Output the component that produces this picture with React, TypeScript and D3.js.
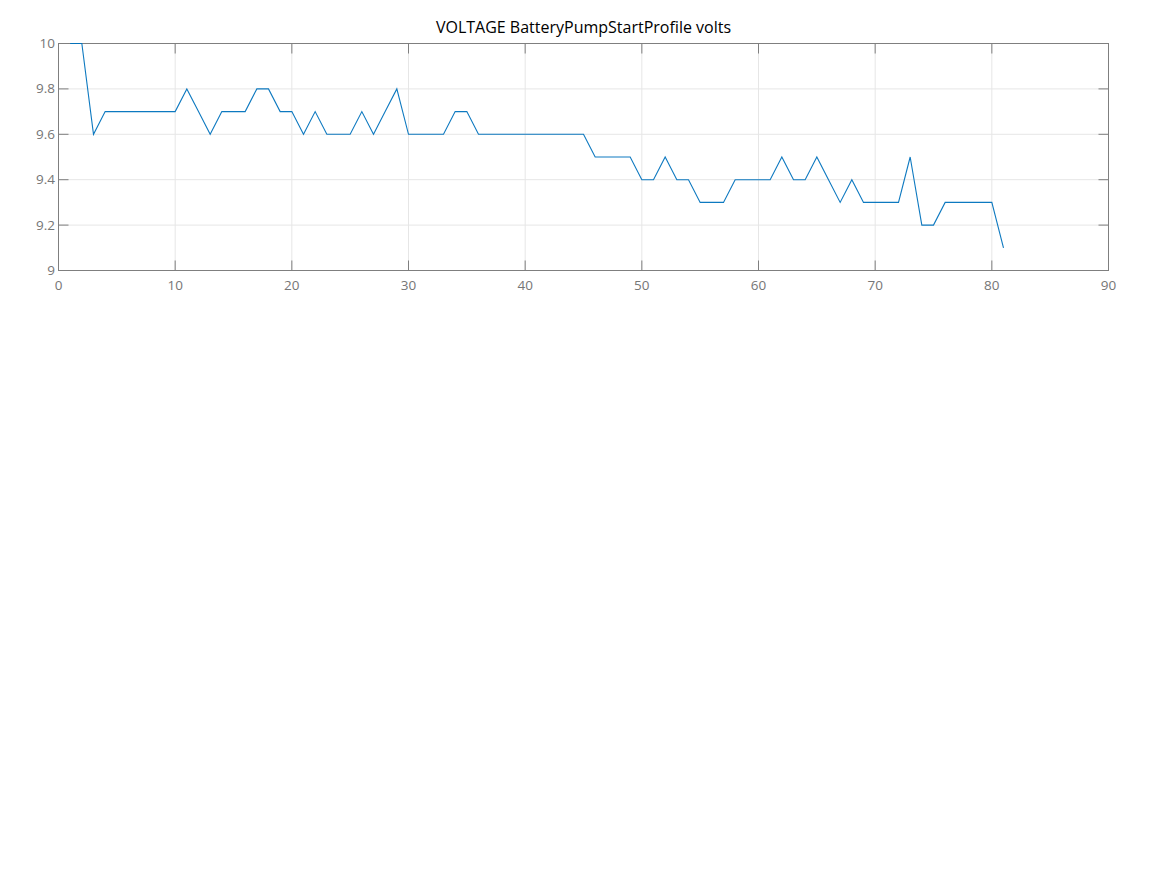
import React from "react";
import * as d3 from "d3";

const xValues: number[] = Array.from({ length: 81 }, (_, i) => i + 1);
const volts: number[] = [
  10, 10, 9.6, 9.7, 9.7, 9.7, 9.7, 9.7, 9.7, 9.7,
  9.8, 9.7, 9.6, 9.7, 9.7, 9.7, 9.8, 9.8, 9.7, 9.7,
  9.6, 9.7, 9.6, 9.6, 9.6, 9.7, 9.6, 9.7, 9.8, 9.6,
  9.6, 9.6, 9.6, 9.7, 9.7, 9.6, 9.6, 9.6, 9.6, 9.6,
  9.6, 9.6, 9.6, 9.6, 9.6, 9.5, 9.5, 9.5, 9.5, 9.4,
  9.4, 9.5, 9.4, 9.4, 9.3, 9.3, 9.3, 9.4, 9.4, 9.4,
  9.4, 9.5, 9.4, 9.4, 9.5, 9.4, 9.3, 9.4, 9.3, 9.3,
  9.3, 9.3, 9.5, 9.2, 9.2, 9.3, 9.3, 9.3, 9.3, 9.3,
  9.1,
];
const xTicks: number[] = [0, 10, 20, 30, 40, 50, 60, 70, 80, 90];
const yTicks: number[] = [9, 9.2, 9.4, 9.6, 9.8, 10];
const title = "VOLTAGE BatteryPumpStartProfile volts";

export default function App() {
  const W = 1167, H = 875;
  const left = 58.5, right = 1108.5, top = 43.5, bottom = 270.5;
  const x = d3.scaleLinear().domain([0, 90]).range([left, right]);
  const y = d3.scaleLinear().domain([9, 10]).range([bottom, top]);
  const line = d3.line<number>().x((_, i) => x(xValues[i])).y((d) => y(d));
  const tickLen = 10;
  const font = "'Open Sans', 'Noto Sans', sans-serif";
  const axisColor = "#7f7f7f";
  return (
    <svg width={W} height={H} style={{ position: "absolute", left: 0, top: 0 }} fontFamily={font}>
      <rect x={0} y={0} width={W} height={H} fill="#fff" />
      {xTicks.map((t) => (
        <line key={"gx" + t} x1={x(t)} x2={x(t)} y1={top} y2={bottom} stroke="#e6e6e6" strokeWidth={1} />
      ))}
      {yTicks.map((t) => (
        <line key={"gy" + t} x1={left} x2={right} y1={y(t)} y2={y(t)} stroke="#e6e6e6" strokeWidth={1} />
      ))}
      <rect x={left} y={top} width={right - left} height={bottom - top} fill="none" stroke={axisColor} strokeWidth={1} />
      {xTicks.map((t) => (
        <g key={"tx" + t}>
          <line x1={x(t)} x2={x(t)} y1={bottom} y2={bottom - tickLen} stroke={axisColor} />
          <line x1={x(t)} x2={x(t)} y1={top} y2={top + tickLen} stroke={axisColor} />
          <text x={x(t)} y={bottom + 19} textAnchor="middle" fontSize={13.5} fill="#767676">{t}</text>
        </g>
      ))}
      {yTicks.map((t) => (
        <g key={"ty" + t}>
          <line x1={left} x2={left + tickLen} y1={y(t)} y2={y(t)} stroke={axisColor} />
          <line x1={right} x2={right - tickLen} y1={y(t)} y2={y(t)} stroke={axisColor} />
          <text x={left - 3.5} y={y(t) + 4.5} textAnchor="end" fontSize={13.5} fill="#767676">{d3.format("~g")(t)}</text>
        </g>
      ))}
      <path d={line(volts) || ""} fill="none" stroke="#0072BD" strokeWidth={1.1} strokeOpacity={0.95} />
      <text x={(left + right) / 2} y={33} textAnchor="middle" fontSize={16} fill="#000">{title}</text>
    </svg>
  );
}
